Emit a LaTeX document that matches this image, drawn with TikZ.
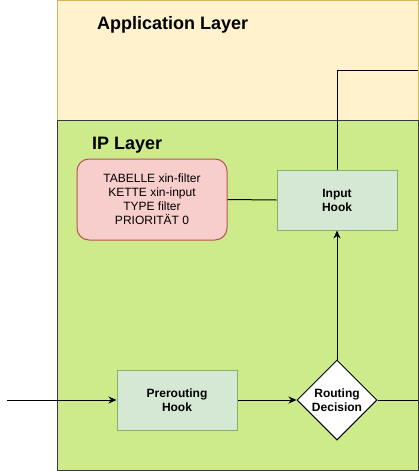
\documentclass[tikz,border=0pt]{standalone}
\usepackage{fontspec}
\setmainfont{Liberation Sans}
\usetikzlibrary{arrows.meta,shapes.geometric}
\definecolor{appfill}{HTML}{FFF2CC}
\definecolor{appdraw}{HTML}{D6B656}
\definecolor{ipfill}{HTML}{CDEB8B}
\definecolor{ipdraw}{HTML}{36393D}
\definecolor{redfill}{HTML}{F8CECC}
\definecolor{reddraw}{HTML}{B85450}
\definecolor{grnfill}{HTML}{D5E8D4}
\definecolor{grndraw}{HTML}{82B366}
\tikzset{
  layer/.style={draw, line width=1pt, rectangle, inner sep=0pt, anchor=north west},
  title/.style={anchor=west, inner sep=0pt, font=\bfseries\fontsize{18}{21}\selectfont},
  hook/.style={draw=grndraw, fill=grnfill, line width=1pt, rectangle, minimum width=120pt, minimum height=60pt, inner sep=0pt, align=center, font=\bfseries\fontsize{12}{14}\selectfont},
  infobox/.style={draw=reddraw, fill=redfill, line width=1pt, rectangle, rounded corners=12pt, minimum width=150pt, minimum height=81pt, inner sep=0pt, align=center, font=\fontsize{12}{14}\selectfont},
  decision/.style={draw=black, fill=white, line width=1pt, diamond, minimum width=80pt, minimum height=80pt, inner sep=0pt, align=center, font=\bfseries\fontsize{12}{14}\selectfont},
  conn/.style={draw=black, line width=1pt},
  arr/.style={conn, -{Stealth[length=8pt,width=7pt,inset=2.5pt]}}
}
\begin{document}
\begin{tikzpicture}[x=1pt,y=-1pt]
\useasboundingbox (0,0) rectangle (419,471);
\node[layer, draw=appdraw, fill=appfill, minimum width=361pt, minimum height=120pt] (app) at (57,0) {};
\node[layer, draw=ipdraw, fill=ipfill, minimum width=361pt, minimum height=350pt] (ip) at (57,120) {};
\node[title] (apptitle) at (97,25) {Application Layer};
\node[title] (iptitle) at (92,145) {IP Layer};
\node[infobox] (info) at (152,199.5) {TABELLE xin-filter\\KETTE xin-input\\TYPE filter\\PRIORITÄT 0};
\node[hook] (input) at (337,200) {Input\\Hook};
\node[hook] (pre) at (177,400) {Prerouting\\Hook};
\node[decision] (route) at (337,400) {Routing\\Decision};
\coordinate (inpt) at (7,400);
\coordinate (outr) at (418,400);
\coordinate (bend) at (337,70);
\coordinate (outa) at (418,70);
\draw[conn] (info.east) -- (input.west);
\draw[arr] (inpt) -- (pre.west);
\draw[arr] (pre.east) -- (route.west);
\draw[arr] (route.north) -- (input.south);
\draw[conn] (route.east) -- (outr);
\draw[conn] (input.north) -- (bend) -- (outa);
\end{tikzpicture}
\end{document}
